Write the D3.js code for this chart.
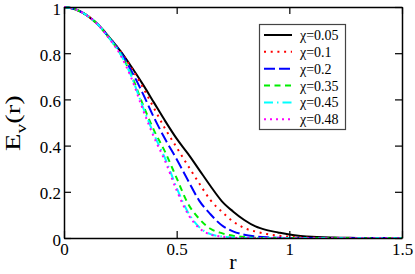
<!DOCTYPE html>
<html>
<head>
<meta charset="utf-8">
<script src="https://cdn.jsdelivr.net/npm/d3@7"></script>
<style>
  body { margin: 0; background: #fff; }
  svg { display: block; }
</style>
</head>
<body>
<div id="chart"></div>
<script>
// r grid shared by every curve
var rValues = [0, 0.05, 0.1, 0.15, 0.2, 0.25, 0.3, 0.35, 0.4, 0.45, 0.5, 0.55, 0.6, 0.65, 0.7, 0.75,
  0.8, 0.85, 0.9, 0.95, 1.0, 1.05, 1.1, 1.15, 1.2, 1.25, 1.3, 1.35, 1.4, 1.45, 1.5];

// E_v(r), one array per chi
var chi005 = [1, 0.99, 0.965, 0.925, 0.87, 0.81, 0.74, 0.665, 0.585, 0.505, 0.43, 0.365, 0.295, 0.225, 0.16, 0.115,
  0.078, 0.05, 0.034, 0.024, 0.015, 0.009, 0.005, 0.003, 0.002, 0.001, 0, 0, 0, 0, 0];
var chi01 = [1, 0.99, 0.965, 0.925, 0.87, 0.809, 0.735, 0.652, 0.561, 0.471, 0.392, 0.313, 0.237, 0.164, 0.114, 0.072,
  0.043, 0.028, 0.017, 0.010, 0.006, 0.003, 0.001, 0, 0, 0, 0, 0, 0, 0, 0];
var chi02 = [1, 0.99, 0.965, 0.925, 0.868, 0.806, 0.722, 0.625, 0.52, 0.426, 0.341, 0.25, 0.162, 0.103, 0.055, 0.029,
  0.014, 0.007, 0.003, 0.001, 0, 0, 0, 0, 0, 0, 0, 0, 0, 0, 0];
var chi035 = [1, 0.99, 0.965, 0.925, 0.866, 0.799, 0.704, 0.578, 0.465, 0.37, 0.259, 0.149, 0.083, 0.04, 0.021, 0.01,
  0.004, 0.001, 0, 0, 0, 0, 0, 0, 0, 0, 0, 0, 0, 0, 0];
var chi045 = [1, 0.99, 0.965, 0.925, 0.866, 0.797, 0.698, 0.567, 0.447, 0.342, 0.217, 0.112, 0.047, 0.017, 0.007, 0.002,
  0, 0, 0, 0, 0, 0, 0, 0, 0, 0, 0, 0, 0, 0, 0];
var chi048 = [1, 0.99, 0.965, 0.924, 0.864, 0.793, 0.69, 0.556, 0.435, 0.33, 0.206, 0.104, 0.043, 0.015, 0.006, 0.001,
  0, 0, 0, 0, 0, 0, 0, 0, 0, 0, 0, 0, 0, 0, 0];

var seriesNames = ["χ=0.05", "χ=0.1", "χ=0.2", "χ=0.35", "χ=0.45", "χ=0.48"];
var seriesValues = [chi005, chi01, chi02, chi035, chi045, chi048];

var xTicks = [0, 0.5, 1, 1.5];
var xTickLabels = ["0", "0.5", "1", "1.5"];
var yTicks = [0, 0.2, 0.4, 0.6, 0.8, 1];
var yTickLabels = ["0", "0.2", "0.4", "0.6", "0.8", "1"];

var serif = "'Liberation Serif', 'Times New Roman', Tinos, 'Noto Serif', FreeSerif, 'Nimbus Roman', 'DejaVu Serif', serif";

// line styles (xmgrace look)
var styles = [
  { color: "#000000", dash: null, w: 2 },
  { color: "#ff0000", dash: "2,4.7", w: 2 },
  { color: "#0000ff", dash: "11,4", w: 2 },
  { color: "#00ee00", dash: "6,4.5", w: 2 },
  { color: "#00ffff", dash: "9,4,1.5,4", w: 2 },
  { color: "#ff00ff", dash: "2,4", w: 2 }
];

var svgWidth = 415;
var svgHeight = 274;
var margin = { top: 7, right: 13, bottom: 36, left: 64 };
var width = svgWidth - margin.left - margin.right;
var height = svgHeight - margin.top - margin.bottom;

var svg = d3.select("#chart").append("svg")
  .attr("width", svgWidth)
  .attr("height", svgHeight)
  .attr("font-family", serif);

var chartGroup = svg.append("g")
  .attr("transform", `translate(${margin.left}, ${margin.top})`);

var xScale = d3.scaleLinear().domain([0, 1.5]).range([0, width]);
var yScale = d3.scaleLinear().domain([0, 1]).range([height, 0]);

// curves
var line = d3.line()
  .x(d => xScale(d[0]))
  .y(d => yScale(d[1]))
  .curve(d3.curveMonotoneX);

seriesValues.forEach(function(vals, i) {
  var pts = rValues.map((r, j) => [r, vals[j]]);
  chartGroup.append("path")
    .datum(pts)
    .attr("fill", "none")
    .attr("stroke", styles[i].color)
    .attr("stroke-width", styles[i].w)
    .attr("stroke-dasharray", styles[i].dash)
    .attr("d", line);
});

// axes, ticks pointing inward
function styleAxis(g) {
  g.attr("font-family", serif);
  g.selectAll(".domain").attr("stroke", "#000").attr("stroke-width", 1.5);
  g.selectAll(".tick line").attr("stroke", "#000").attr("stroke-width", 1.2);
  g.selectAll("text").attr("font-size", 17).attr("fill", "#000")
    .attr("font-family", serif);
}

chartGroup.append("g")
  .attr("transform", `translate(0, ${height})`)
  .call(d3.axisBottom(xScale).tickValues(xTicks).tickFormat((d, i) => xTickLabels[i])
    .tickSizeInner(-7).tickSizeOuter(0).tickPadding(5))
  .call(styleAxis);

chartGroup.append("g")
  .call(d3.axisLeft(yScale).tickValues(yTicks).tickFormat((d, i) => yTickLabels[i])
    .tickSizeInner(-7).tickSizeOuter(0).tickPadding(3))
  .call(styleAxis)
  .selectAll("text").attr("dy", "0.42em");

chartGroup.append("g")
  .call(d3.axisTop(xScale).tickValues(xTicks).tickFormat("")
    .tickSizeInner(-7).tickSizeOuter(0))
  .call(styleAxis);

chartGroup.append("g")
  .attr("transform", `translate(${width}, 0)`)
  .call(d3.axisRight(yScale).tickValues(yTicks).tickFormat("")
    .tickSizeInner(-7).tickSizeOuter(0))
  .call(styleAxis);

// axis titles
svg.append("text")
  .attr("x", margin.left + width / 2)
  .attr("y", 269)
  .attr("text-anchor", "middle")
  .attr("font-family", serif)
  .attr("font-size", 22)
  .text("r");

var yTitle = svg.append("text")
  .attr("transform", "translate(20, 123) rotate(-90) scale(1.3, 1)")
  .attr("text-anchor", "middle")
  .attr("font-family", serif)
  .attr("font-size", 22);
yTitle.append("tspan").text("E");
yTitle.append("tspan").attr("font-size", 15).attr("dy", 6).text("v");
yTitle.append("tspan").attr("dy", -6).text("(r)");

// legend
var legend = svg.append("g");
legend.append("rect")
  .attr("x", 259.5).attr("y", 24.5)
  .attr("width", 86).attr("height", 105)
  .attr("fill", "#fff")
  .attr("stroke", "#444")
  .attr("stroke-width", 1.2);

seriesNames.forEach(function(name, i) {
  var ly = 35 + i * 16.86;
  legend.append("line")
    .attr("x1", 264).attr("x2", 292)
    .attr("y1", ly).attr("y2", ly)
    .attr("stroke", styles[i].color)
    .attr("stroke-width", styles[i].w)
    .attr("stroke-dasharray", styles[i].dash);
  legend.append("text")
    .attr("x", 300).attr("y", ly + 5)
    .attr("font-family", serif)
    .attr("font-size", 14)
    .text(name);
});
</script>
</body>
</html>
